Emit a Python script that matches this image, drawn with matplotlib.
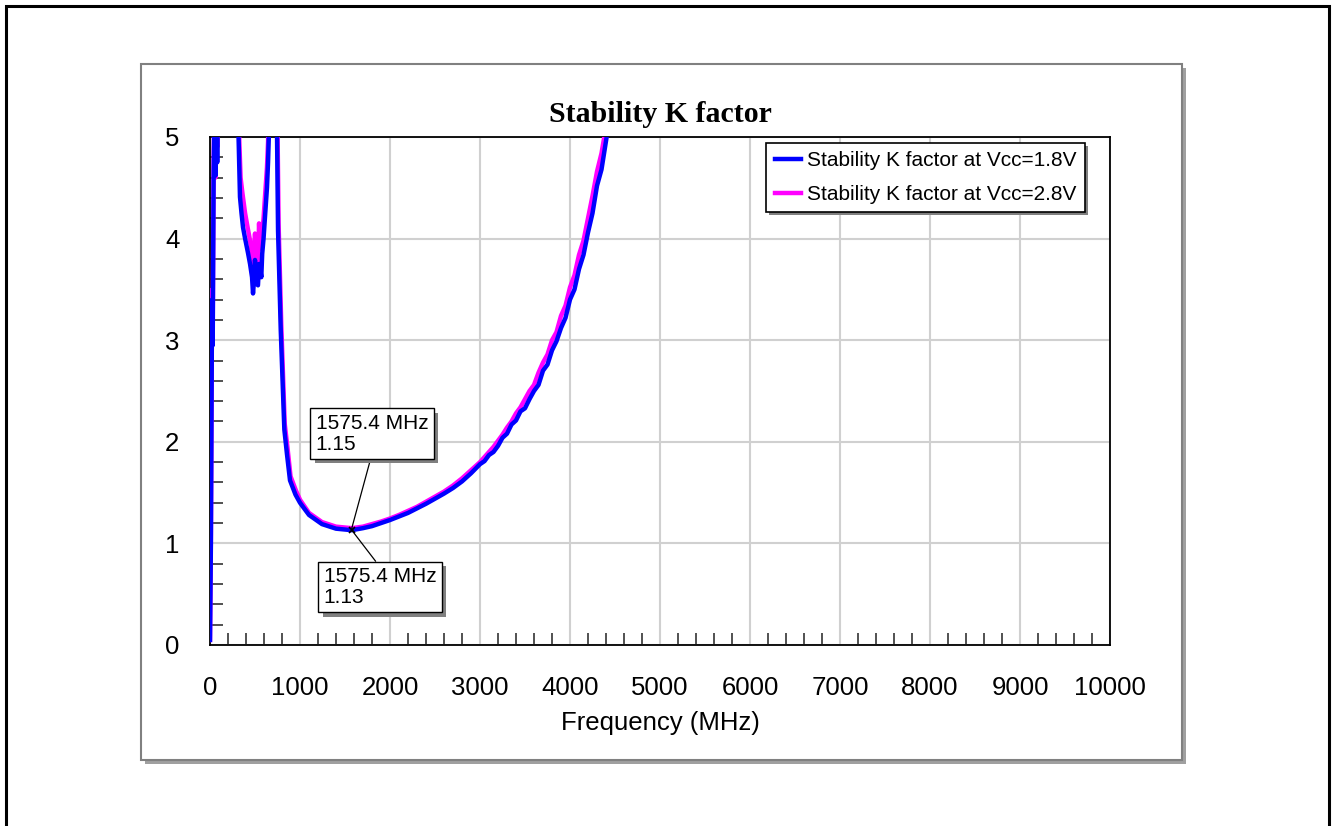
import matplotlib
matplotlib.use('Agg')
import matplotlib.pyplot as plt
import matplotlib.patheffects as pe
from matplotlib.patches import Rectangle
from matplotlib.ticker import MultipleLocator

# K factor vs frequency, Vcc = 1.8 V
freq_18 = [0, 10, 20, 25, 30, 40, 50, 60, 70, 80, 90, 100, 200, 250, 300, 320,
           333, 350, 367, 390, 422, 445, 467, 478, 490, 500, 515, 533, 545, 555,
           570, 580, 595, 610, 633, 645, 655, 670, 690, 710, 730, 745, 756, 786,
           826, 855, 889, 950, 1000, 1100, 1244, 1400, 1575, 1700, 1800, 1900,
           2000, 2100, 2200, 2300, 2400, 2500, 2600, 2700, 2800, 2900, 3000,
           3050, 3100, 3150, 3200, 3250, 3300, 3350, 3400, 3450, 3500, 3550,
           3600, 3650, 3700, 3750, 3800, 3850, 3900, 3950, 4000, 4050, 4100,
           4150, 4200, 4250, 4300, 4350, 4400, 4450, 4500, 4600, 4800]
k_18 = [0.05, 1.0, 2.9, 3.4, 2.95, 4.6, 5.3, 4.62, 5.6, 4.75, 6.0, 7.5, 12.0, 9.0,
        5.6, 4.9, 4.41, 4.25, 4.11, 4.0, 3.86, 3.75, 3.62, 3.46, 3.6, 3.79, 3.56,
        3.54, 3.75, 3.72, 3.62, 3.85, 4.0, 4.2, 4.5, 4.75, 5.05, 6.0, 7.0, 6.5,
        5.6, 5.0, 4.08, 3.1, 2.12, 1.88, 1.62, 1.48, 1.40, 1.28, 1.19, 1.145,
        1.13, 1.15, 1.17, 1.20, 1.23, 1.265, 1.30, 1.345, 1.39, 1.44, 1.49,
        1.545, 1.61, 1.69, 1.78, 1.81, 1.87, 1.90, 1.96, 2.04, 2.08, 2.17, 2.21,
        2.30, 2.33, 2.42, 2.50, 2.56, 2.70, 2.76, 2.90, 2.99, 3.12, 3.22, 3.40,
        3.50, 3.70, 3.84, 4.06, 4.25, 4.52, 4.68, 4.96, 5.25, 5.6, 6.3, 8.0]

# K factor vs frequency, Vcc = 2.8 V
freq_28 = [0, 10, 20, 25, 30, 40, 50, 60, 70, 80, 90, 100, 200, 250, 300, 320,
           340, 360, 390, 420, 445, 467, 480, 490, 500, 515, 533, 545, 555, 570,
           580, 595, 610, 633, 645, 655, 670, 690, 710, 735, 750, 762, 792, 830,
           860, 895, 955, 1000, 1100, 1244, 1400, 1575, 1700, 1800, 1900, 2000,
           2100, 2200, 2300, 2400, 2500, 2600, 2700, 2800, 2900, 3000, 3050,
           3100, 3150, 3200, 3250, 3300, 3350, 3400, 3450, 3500, 3550, 3600,
           3650, 3700, 3750, 3800, 3850, 3900, 3950, 4000, 4050, 4100, 4150,
           4200, 4250, 4300, 4350, 4400, 4450, 4500, 4600, 4800]
k_28 = [0.05, 1.1, 3.0, 3.5, 3.1, 4.7, 5.4, 4.6, 5.7, 4.9, 6.2, 7.8, 12.0, 9.5,
        5.8, 5.1, 4.6, 4.45, 4.25, 4.1, 3.98, 3.85, 3.75, 3.9, 4.05, 3.78, 3.75,
        4.15, 3.95, 3.9, 4.05, 4.2, 4.4, 4.7, 4.95, 5.3, 6.2, 7.2, 6.8, 5.8,
        5.1, 4.15, 3.15, 2.18, 1.95, 1.66, 1.52, 1.43, 1.30, 1.21, 1.165, 1.15,
        1.165, 1.19, 1.215, 1.245, 1.28, 1.32, 1.36, 1.41, 1.46, 1.51, 1.57,
        1.64, 1.72, 1.80, 1.85, 1.90, 1.95, 2.01, 2.07, 2.14, 2.20, 2.28, 2.34,
        2.42, 2.50, 2.56, 2.68, 2.78, 2.86, 3.00, 3.08, 3.24, 3.34, 3.52, 3.64,
        3.84, 3.98, 4.20, 4.42, 4.66, 4.84, 5.10, 5.4, 5.8, 6.5, 8.3]

marker_freq = 1575.4
marker_k18 = 1.13
marker_k28 = 1.15

W, H = 1333, 826
fig = plt.figure(figsize=(W / 100, H / 100), dpi=100)
fig.patch.set_facecolor('white')
plt.rcParams['font.family'] = ['Liberation Sans', 'DejaVu Sans']


def px_rect(x0, y0, x1, y1, **kw):
    # rectangle given in pixel coords from the top-left corner
    return Rectangle((x0 / W, 1 - y1 / H), (x1 - x0) / W, (y1 - y0) / H,
                     transform=fig.transFigure, zorder=-5, **kw)


# page border and chart frame with drop shadow
fig.patches.append(px_rect(6, 6, 1329, 840, fill=False, edgecolor='black', linewidth=2.2))
fig.patches.append(px_rect(145, 68, 1186, 764, facecolor='#a0a0a0', edgecolor='none'))
fig.patches.append(px_rect(141, 64, 1182, 760, facecolor='white', edgecolor='#808080', linewidth=1.5))

ax = fig.add_axes([210 / W, 1 - 645 / H, 900 / W, 508 / H])
ax.set_zorder(2)
ax.set_xlim(0, 10000)
ax.set_ylim(0, 5)

ax.plot(freq_28, k_28, color='#ff00ff', linewidth=3.2, label='Stability K factor at Vcc=2.8V', zorder=3)
ax.plot(freq_18, k_18, color='#0000ff', linewidth=3.2, label='Stability K factor at Vcc=1.8V', zorder=4)

ax.xaxis.set_major_locator(MultipleLocator(1000))
ax.xaxis.set_minor_locator(MultipleLocator(200))
ax.yaxis.set_major_locator(MultipleLocator(1))
ax.yaxis.set_minor_locator(MultipleLocator(0.2))
ax.tick_params(which='major', length=0, labelsize=18.5)
ax.tick_params(axis='x', which='major', pad=22)
ax.tick_params(axis='y', which='major', pad=22)
ax.tick_params(which='minor', direction='in', length=9, width=1.2, color='#333333')
ax.grid(True, which='major', color='#d0d0d0', linewidth=1.5)
ax.set_axisbelow(True)
for s in ax.spines.values():
    s.set_linewidth(1.3)
    s.set_color('black')

ax.set_xlabel('Frequency (MHz)', fontsize=18.5, labelpad=8)
ax.set_title('Stability K factor', fontsize=21.5, fontweight='bold',
             family=['Liberation Serif', 'DejaVu Serif'], pad=11)

handles, labels = ax.get_legend_handles_labels()
leg = ax.legend(handles[::-1], labels[::-1], loc='upper right',
                bbox_to_anchor=(0.972, 0.988), borderaxespad=0, fontsize=15,
                fancybox=False, edgecolor='black', framealpha=1,
                handlelength=1.25, handletextpad=0.3, borderpad=0.4,
                labelspacing=0.7,
                shadow={'facecolor': '#808080', 'edgecolor': 'none', 'alpha': 1})
leg.get_frame().set_linewidth(1.2)
leg.set_zorder(10)

# marker readouts at 1575.4 MHz
ax.plot([marker_freq], [marker_k18], marker='x', color='black', ms=5, mew=1.2, zorder=6)
shadow = [pe.SimplePatchShadow(offset=(3, -3), shadow_rgbFace='#808080', alpha=1), pe.Normal()]
readouts = [
    (marker_k28, (1800, 2.08), (0.5, 0)),
    (marker_k18, (1889, 0.57), (0.5, 1)),
]
for kval, xy_text, rel in readouts:
    t = ax.annotate(f'{marker_freq:.1f} MHz\n{kval:.2f}', xy=(marker_freq, kval),
                    xytext=xy_text, textcoords='data', fontsize=15,
                    ha='center', va='center', multialignment='left',
                    linespacing=1.15,
                    bbox=dict(boxstyle='square,pad=0.25', facecolor='white',
                              edgecolor='black', linewidth=1),
                    arrowprops=dict(arrowstyle='-', color='black', linewidth=0.9,
                                    relpos=rel, shrinkA=0, shrinkB=0),
                    zorder=8)
    t.get_bbox_patch().set_path_effects(shadow)

fig.savefig('out.png', dpi=100)
